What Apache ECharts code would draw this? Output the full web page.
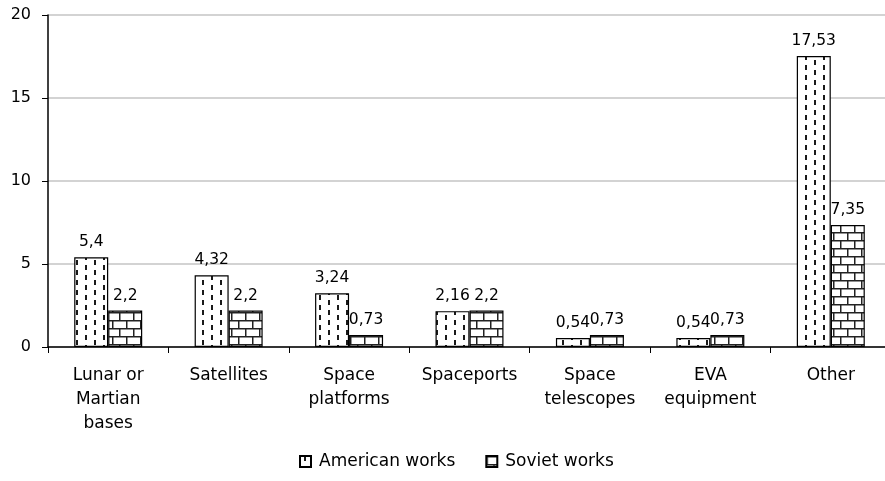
<!DOCTYPE html>
<html>
<head>
<meta charset="utf-8">
<script src="https://cdn.jsdelivr.net/npm/echarts@6/dist/echarts.min.js"></script>
<style>
  html, body { margin: 0; padding: 0; background: #fff; overflow: hidden; }
  #chart { width: 891px; height: 481px; }
</style>
</head>
<body>
<div id="chart"></div>
<script>
// Categories of space-technology predictions and their shares (%)
var categories = ['Lunar or\nMartian\nbases', 'Satellites', 'Space\nplatforms', 'Spaceports', 'Space\ntelescopes', 'EVA\nequipment', 'Other'];
var americanWorks = [5.4, 4.32, 3.24, 2.16, 0.54, 0.54, 17.53];
var sovietWorks = [2.2, 2.2, 0.73, 2.2, 0.73, 0.73, 7.35];
var seriesNames = ['American works', 'Soviet works'];
var yTicks = [0, 5, 10, 15, 20];

var FONT = '"DejaVu Sans", "Noto Sans", sans-serif';

// Dashed vertical fill (white with staggered black dashes)
function dashedTile() {
  var c = document.createElement('canvas');
  c.width = 18; c.height = 10;
  var g = c.getContext('2d');
  g.fillStyle = '#fff';
  g.fillRect(0, 0, 18, 10);
  g.fillStyle = '#1a1a1a';
  g.fillRect(4, 0, 2, 5);
  g.fillRect(13, 5, 2, 5);
  return c;
}

// Brick fill (white bricks, black mortar)
function brickTile() {
  var w = 14, h = 16;
  var c = document.createElement('canvas');
  c.width = w; c.height = h;
  var g = c.getContext('2d');
  g.fillStyle = '#fff';
  g.fillRect(0, 0, w, h);
  g.fillStyle = '#222';
  g.fillRect(0, 0, w, 1.5);
  g.fillRect(0, 8, w, 1.5);
  g.fillRect(0, 0, 1.5, 8);
  g.fillRect(7, 8, 1.5, 8);
  return c;
}

function commaLabel(p) {
  return String(p.value).replace('.', ',');
}

var chart = echarts.init(document.getElementById('chart'), null, { renderer: 'canvas' });

var labelCfg = {
  show: true,
  position: 'top',
  distance: 7,
  color: '#000',
  fontFamily: FONT,
  fontSize: 15.5,
  formatter: commaLabel
};

chart.setOption({
  animation: false,
  backgroundColor: '#fff',
  grid: { left: 48, right: 0, top: 15, bottom: 134, containLabel: false },
  legend: {
    bottom: 6,
    left: 294,
    itemWidth: 11,
    itemHeight: 11,
    itemGap: 30,
    icon: 'rect',
    data: seriesNames,
    textStyle: { color: '#000', fontFamily: FONT, fontSize: 17, padding: [0, 0, 0, 3] }
  },
  xAxis: {
    type: 'category',
    data: categories,
    axisLine: { lineStyle: { color: '#000', width: 1.5 } },
    axisTick: { show: true, length: 6, lineStyle: { color: '#000', width: 1 } },
    axisLabel: {
      interval: 0,
      margin: 17,
      color: '#000',
      fontFamily: FONT,
      fontSize: 17,
      lineHeight: 24
    }
  },
  yAxis: {
    type: 'value',
    min: yTicks[0],
    max: yTicks[yTicks.length - 1],
    interval: yTicks[1] - yTicks[0],
    axisLine: { show: true, lineStyle: { color: '#000', width: 1.5 } },
    axisTick: { show: true, length: 6, lineStyle: { color: '#000' } },
    axisLabel: { margin: 17, color: '#000', fontFamily: FONT, fontSize: 16 },
    splitLine: { lineStyle: { color: '#c4c4c4', width: 1.5 } }
  },
  series: [
    {
      name: seriesNames[0],
      type: 'bar',
      data: americanWorks,
      barWidth: 34,
      barGap: '0%',
      itemStyle: {
        color: { image: dashedTile(), repeat: 'repeat' },
        borderColor: '#000',
        borderWidth: 1.2
      },
      label: labelCfg
    },
    {
      name: seriesNames[1],
      type: 'bar',
      data: sovietWorks,
      barWidth: 34,
      barGap: '0%',
      itemStyle: {
        color: { image: brickTile(), repeat: 'repeat' },
        borderColor: '#000',
        borderWidth: 1.2
      },
      label: labelCfg
    }
  ]
});
</script>
</body>
</html>
